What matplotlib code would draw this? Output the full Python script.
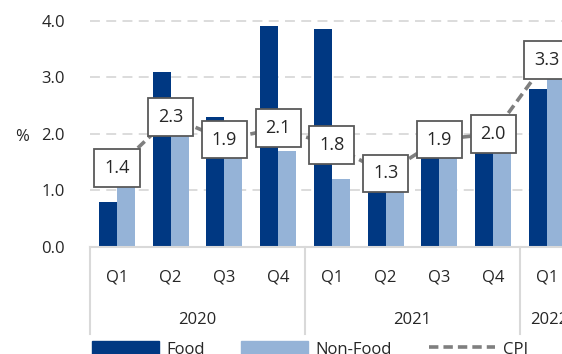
import matplotlib
matplotlib.use("Agg")
import matplotlib.pyplot as plt
import matplotlib.transforms as mtransforms
from matplotlib.patches import Patch
from matplotlib.lines import Line2D
import numpy as np

quarters = ["Q1", "Q2", "Q3", "Q4", "Q1", "Q2", "Q3", "Q4", "Q1"]
years = ["2020", "2021", "2022"]
year_spans = [(0, 3), (4, 7), (8, 8)]
food = [0.8, 3.1, 2.3, 3.9, 3.85, 1.1, 1.7, 1.7, 2.8]
nonfood = [1.2, 2.2, 1.8, 1.7, 1.2, 1.0, 1.6, 1.7, 3.0]
cpi = [1.4, 2.3, 1.9, 2.1, 1.8, 1.3, 1.9, 2.0, 3.3]
yticks = [0.0, 1.0, 2.0, 3.0, 4.0]

plt.rcParams['font.family'] = ['Open Sans', 'DejaVu Sans']
TXT = '#262626'
FOOD_C = '#003882'
NONFOOD_C = '#95B3D7'
CPI_C = '#7F7F7F'
GRID_C = '#D9D9D9'
FS = 12

W, H = 562, 354
fig = plt.figure(figsize=(W / 100, H / 100), dpi=100)
left_px, right_px, bottom_px, top_px = 90, 573.75, 247, 20.7
ax = fig.add_axes([left_px / W, (H - bottom_px) / H,
                   (right_px - left_px) / W, (bottom_px - top_px) / H])

x = np.arange(len(quarters))
bw = 0.335
ax.bar(x - bw / 2, food, bw, color=FOOD_C, zorder=2)
ax.bar(x + bw / 2, nonfood, bw, color=NONFOOD_C, zorder=2)
ax.plot(x, cpi, color=CPI_C, lw=2.6, linestyle=(0, (2.6, 1.4)), zorder=3,
        dash_capstyle='butt')
for xi, v in zip(x, cpi):
    ax.text(xi, v, f"{v:.1f}", ha='center', va='center', fontsize=13, color=TXT,
            zorder=4,
            bbox=dict(boxstyle='square,pad=0.55', fc='white', ec='#595959', lw=1.3))

ax.set_xlim(-0.5, 8.5)
ax.set_ylim(0, 4.0)
ax.set_yticks(yticks)
ax.set_yticklabels([f"{t:.1f}" for t in yticks], fontsize=FS, color=TXT)
ax.tick_params(axis='y', length=0, pad=18)
ax.set_xticks([])
for t in yticks[1:]:
    ax.axhline(t, color=GRID_C, lw=1.3, linestyle=(0, (5.5, 3.5)), zorder=1,
               clip_on=False)
for s in ['top', 'right', 'left']:
    ax.spines[s].set_visible(False)
ax.spines['bottom'].set_color(GRID_C)
ax.spines['bottom'].set_linewidth(1.5)

axh = bottom_px - top_px
trans = mtransforms.blended_transform_factory(ax.transData, ax.transAxes)
for xi, q in zip(x, quarters):
    ax.text(xi, -31 / axh, q, ha='center', va='center', fontsize=FS, color=TXT,
            transform=trans)
for (a, b), yr in zip(year_spans, years):
    ax.text((a + b) / 2 if b > a else a + 0.05, -73 / axh, yr, ha='center', va='center',
            fontsize=FS, color=TXT, transform=trans)
for xs in [-0.5, 3.5, 7.5]:
    ax.plot([xs, xs], [0, -87 / axh], color=GRID_C, lw=1.5, transform=trans,
            clip_on=False)

fig.text(22 / W, (H - 137) / H, "%", ha='center', va='center', fontsize=FS, color=TXT)

handles = [Patch(color=FOOD_C, label='Food'),
           Patch(color=NONFOOD_C, label='Non-Food'),
           Line2D([], [], color=CPI_C, lw=2.6, linestyle=(0, (2.6, 1.4)), label='CPI')]
fig.legend(handles=handles, loc='upper left', bbox_to_anchor=(92 / W, (H - 341) / H),
           ncol=3, frameon=False, fontsize=FS, handlelength=4.0, handleheight=0.9,
           handletextpad=0.45, columnspacing=2.2, borderpad=0, borderaxespad=0,
           labelcolor=TXT)

fig.savefig("out.png", dpi=100)
